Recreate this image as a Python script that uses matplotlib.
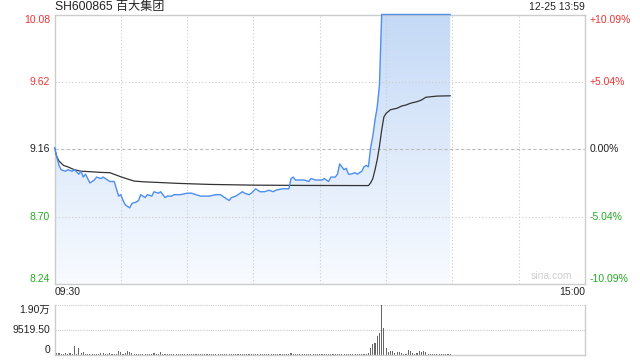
import numpy as np
import matplotlib
matplotlib.use("Agg")
import matplotlib.pyplot as plt
from matplotlib.colors import LinearSegmentedColormap
from matplotlib import transforms

plt.rcParams['font.family'] = ['Liberation Sans', 'Noto Sans CJK SC', 'DejaVu Sans']

title = "SH600865 百大集团"
stamp = "12-25 13:59"
prev_close = 9.16
price_ticks = [8.24, 8.70, 9.16, 9.62, 10.08]
pct_labels = ["-10.09%", "-5.04%", "0.00%", "+5.04%", "+10.09%"]
time_labels = ["09:30", "15:00"]
vol_ticks = [0, 9519.5, 19039]
vol_labels = ["0", "9519.50", "1.90万"]

# minute index from 09:30 (0..240, lunch break squeezed out)
price_min = [0, 2, 3, 5, 6, 8, 9, 11, 12, 13,
             14, 16, 18, 19, 21, 22, 24, 25, 27, 28,
             29, 30, 31, 32, 34, 35, 37, 38, 39, 41,
             42, 44, 45, 47, 48, 50, 51, 53, 54, 56,
             57, 60, 62, 64, 66, 68, 70, 73, 75, 77,
             79, 80, 82, 85, 86, 88, 89, 91, 93, 95,
             97, 99, 100, 103, 106, 107, 108, 109, 111, 113,
             115, 116, 118, 121, 122, 124, 125, 127, 128, 129,
             131, 132, 133, 134, 136, 137, 139, 140, 141, 142,
             143, 144, 145, 146, 147, 148, 179]
price_val = [9.17, 9.05, 9.02, 9.01, 9.02, 9.01, 9.02, 8.99, 9.01, 8.97,
             8.99, 8.93, 8.95, 8.97, 8.96, 8.97, 8.95, 8.94, 8.94, 8.89,
             8.84, 8.85, 8.81, 8.78, 8.76, 8.79, 8.80, 8.81, 8.85, 8.83,
             8.85, 8.84, 8.87, 8.86, 8.87, 8.83, 8.84, 8.84, 8.85, 8.85,
             8.85, 8.86, 8.86, 8.85, 8.84, 8.84, 8.84, 8.85, 8.85, 8.83,
             8.81, 8.83, 8.84, 8.87, 8.86, 8.85, 8.86, 8.89, 8.87, 8.87,
             8.88, 8.87, 8.88, 8.89, 8.89, 8.96, 8.97, 8.95, 8.95, 8.95,
             8.94, 8.96, 8.95, 8.95, 8.96, 8.94, 8.97, 8.97, 8.99, 9.06,
             9.02, 9.03, 8.99, 8.99, 9.00, 8.99, 9.01, 9.04, 9.05, 9.04,
             9.17, 9.25, 9.36, 9.45, 9.60, 10.08, 10.08]

avg_min = [0, 1, 2, 4, 6, 9, 12, 16, 21, 25,
           27, 30, 33, 36, 40, 46, 56, 70, 90, 113,
           142, 143, 144, 145, 146, 147, 148, 149, 150, 152,
           155, 157, 159, 161, 164, 166, 168, 173, 179]
avg_val = [9.17, 9.11, 9.08, 9.05, 9.04, 9.02, 9.01, 9.007, 9.002, 9.00,
           8.989, 8.972, 8.957, 8.943, 8.938, 8.934, 8.927, 8.92, 8.915, 8.913,
           8.912, 8.93, 8.96, 9.02, 9.09, 9.18, 9.29, 9.38, 9.405, 9.43,
           9.44, 9.455, 9.462, 9.474, 9.485, 9.496, 9.515, 9.523, 9.525]

volume = [400, 900, 600, 400, 500, 900, 500, 700, 400, 3500,
          500, 2800, 600, 1300, 500, 400, 500, 300, 400, 500,
          400, 600, 900, 500, 400, 600, 300, 500, 400, 1500,
          1300, 500, 700, 1700, 1300, 600, 400, 500, 300, 400,
          300, 400, 500, 300, 400, 700, 300, 400, 1000, 400,
          300, 500, 300, 400, 200, 300, 400, 300, 500, 300,
          400, 300, 200, 400, 300, 500, 300, 200, 400, 300,
          300, 400, 300, 200, 300, 400, 300, 500, 300, 200,
          400, 300, 300, 200, 500, 300, 400, 200, 300, 300,
          400, 300, 200, 300, 400, 300, 300, 200, 300, 400,
          300, 200, 300, 400, 300, 500, 400, 600, 300, 200,
          300, 200, 300, 200, 400, 300, 200, 300, 200, 300,
          200, 400, 300, 200, 300, 400, 200, 300, 400, 500,
          300, 200, 400, 300, 200, 300, 400, 300, 200, 300,
          400, 400, 900, 2800, 4200, 4700, 7300, 8500, 19039, 10300,
          2700, 1300, 1500, 1500, 800, 1100, 1100, 800, 400, 400,
          1900, 1500, 800, 400, 800, 1500, 1300, 1500, 1000, 400,
          400, 300, 400, 200, 300, 400, 300, 200, 300, 400]

RED = '#ee3333'
GREEN = '#22aa22'
GRID = '#cccccc'
FRAME = '#cccccc'

fig = plt.figure(figsize=(6.4, 3.6), dpi=100)
ax = fig.add_axes([0.0852, 0.2111, 0.8289, 0.7486])
vax = fig.add_axes([0.0852, 0.0139, 0.8289, 0.1389])

# gradient area under the price line
fill = ax.fill_between(price_min, price_val, price_ticks[0], color='none', lw=0)
grad = np.linspace(1, 0, 256).reshape(-1, 1)
cmap = LinearSegmentedColormap.from_list('g', ['#f8fbff', '#c4d9f6'])
im = ax.imshow(grad, cmap=cmap, aspect='auto', origin='upper',
               extent=[0, 240, price_ticks[0], price_ticks[-1]], zorder=1)
im.set_clip_path(fill.get_paths()[0], transform=ax.transData)

ax.plot(price_min, price_val, color='#4d8ef0', lw=1.0, zorder=4, clip_on=False)
ax.plot(avg_min, avg_val, color='#333333', lw=0.9, zorder=3)

ax.set_xlim(0, 240)
ax.set_ylim(price_ticks[0], price_ticks[-1])
ax.set_xticks([])
ax.set_yticks([])
for x in range(30, 240, 30):
    ax.axvline(x, color=GRID, lw=0.8, ls=(0, (1, 2)), zorder=2)
for y in price_ticks[1:-1]:
    if y == prev_close:
        ax.axhline(y, color='#bbbbbb', lw=0.8, ls=(0, (3, 2)), zorder=2)
    else:
        ax.axhline(y, color=GRID, lw=0.8, ls=(0, (1, 2)), zorder=2)
for s in ax.spines.values():
    s.set_color(FRAME)
    s.set_linewidth(1)

lt = transforms.offset_copy(ax.get_yaxis_transform(), fig=fig, x=-4.5, units='dots')
rt = transforms.offset_copy(ax.get_yaxis_transform(), fig=fig, x=4.5, units='dots')
for i, (p, pl) in enumerate(zip(price_ticks, pct_labels)):
    c = RED if p > prev_close else (GREEN if p < prev_close else '#222222')
    va = 'bottom' if i == 0 else ('top' if i == len(price_ticks) - 1 else 'center')
    ax.text(0, p, f"{p:.2f}", transform=lt, ha='right', va=va, color=c, fontsize=7.5)
    ax.text(1, p, pl, transform=rt, ha='left', va=va, color=c, fontsize=7.5)

ax.text(0, -0.012, time_labels[0], transform=ax.transAxes, ha='left', va='top',
        fontsize=7.5, color='#222222')
ax.text(1, -0.012, time_labels[1], transform=ax.transAxes, ha='right', va='top',
        fontsize=7.5, color='#222222')
ax.text(0, 1.027, title, transform=ax.transAxes, ha='left', va='center',
        fontsize=8.7, color='#222222')
ax.text(1, 1.027, stamp, transform=ax.transAxes, ha='right', va='center',
        fontsize=7.5, color='#222222')
ax.text(0.975, 0.01, "sina.com", transform=ax.transAxes, ha='right', va='bottom',
        fontsize=7.5, color='#cfcfcf')

# volume panel
vax.bar(np.arange(len(volume)), volume, width=0.5, color='#666666', zorder=2)
vax.set_xlim(0, 240)
vax.set_ylim(vol_ticks[0], vol_ticks[-1])
vax.set_xticks([])
vax.set_yticks([])
vax.axhline(vol_ticks[1], color=GRID, lw=0.8, ls=(0, (1, 1)), zorder=0)
vax.axhline(vol_ticks[2], color=GRID, lw=0.8, ls=(0, (1, 1)), zorder=0, clip_on=False)
vax.spines['top'].set_visible(False)
for k in ['left', 'right', 'bottom']:
    vax.spines[k].set_color(FRAME)
    vax.spines[k].set_linewidth(1)
vlt = transforms.offset_copy(vax.get_yaxis_transform(), fig=fig, x=-4.5, units='dots')
for i, (v, vl) in enumerate(zip(vol_ticks, vol_labels)):
    va = 'bottom' if i == 0 else ('top' if i == len(vol_ticks) - 1 else 'center')
    vax.text(0, v, vl, transform=vlt, ha='right', va=va, color='#222222', fontsize=7.5)

fig.savefig('out.png', dpi=100)
